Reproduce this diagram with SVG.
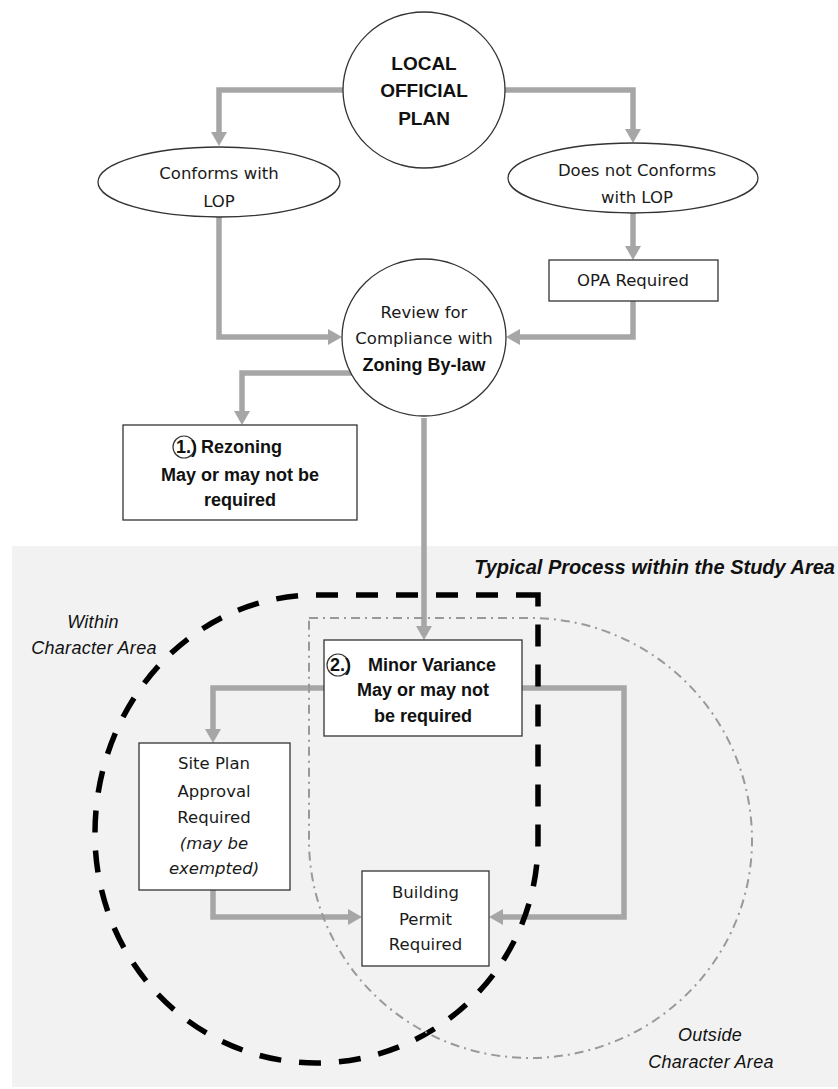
<svg xmlns="http://www.w3.org/2000/svg" width="838" height="1089" viewBox="0 0 838 1089">
<style>
.node{fill:#fff;stroke:#333;stroke-width:1.3}
.conn{fill:none;stroke:#a6a6a6;stroke-width:5.5;stroke-linejoin:miter;stroke-linecap:butt}
.t{font-family:"DejaVu Sans",sans-serif;font-size:16.5px;fill:#1a1a1a;text-anchor:middle}
.ti{font-family:"DejaVu Sans",sans-serif;font-size:16.5px;font-style:italic;fill:#1a1a1a;text-anchor:middle}
.b{font-family:"Liberation Sans",Arial,sans-serif;font-size:18px;font-weight:bold;fill:#111;text-anchor:middle}
.lbl{font-family:"Liberation Sans",Arial,sans-serif;font-size:18px;font-style:italic;fill:#111;text-anchor:middle;letter-spacing:0.3px}
.num{fill:#fff;stroke:#333;stroke-width:1.2}
</style>
<defs>
<marker id="ah" markerUnits="userSpaceOnUse" viewBox="0 0 14 16" refX="1" refY="8" markerWidth="14" markerHeight="16" orient="auto">
<path d="M0,0 L14,8 L0,16 Z" fill="#a6a6a6"/>
</marker>
</defs>

<rect id="study-area" x="12" y="546" width="826" height="541" fill="#f2f2f2"/>
<text class="b" x="835" y="574" style="font-size:20px;font-style:italic;text-anchor:end">Typical Process within the Study Area</text>

<g id="connectors">
<path class="conn" d="M346 90 H219 V133" marker-end="url(#ah)"/>
<path class="conn" d="M502 90 H633 V130" marker-end="url(#ah)"/>
<path class="conn" d="M633 213 V247" marker-end="url(#ah)"/>
<path class="conn" d="M219 217 V337 H329" marker-end="url(#ah)"/>
<path class="conn" d="M633 301 V337 H519" marker-end="url(#ah)"/>
<path class="conn" d="M352 373 H242 V412" marker-end="url(#ah)"/>
<path class="conn" d="M424 418 V627" marker-end="url(#ah)"/>
<path class="conn" d="M324 688 H213 V730" marker-end="url(#ah)"/>
<path class="conn" d="M522 688 H624 V917 H502" marker-end="url(#ah)"/>
<path class="conn" d="M213 890 V917 H349" marker-end="url(#ah)"/>
</g>

<g id="within-character-area">
<path d="M538 595 H316 A221 238 0 0 0 95 835 A221 228 0 0 0 316 1063 A222 222 0 0 0 538 841 Z" fill="none" stroke="#000" stroke-width="5.5" stroke-dasharray="22,18"/>
<text class="lbl" x="93" y="628">Within</text>
<text class="lbl" x="94" y="654">Character Area</text>
</g>

<g id="outside-character-area">
<path d="M309 618 H530 A222 222 0 0 1 752 840 A222 218 0 0 1 530 1058 A221 218 0 0 1 309 840 Z" fill="none" stroke="#999" stroke-width="2" stroke-dasharray="9,5,2,5"/>
<text class="lbl" x="710" y="1041">Outside</text>
<text class="lbl" x="711" y="1068">Character Area</text>
</g>

<g id="local-official-plan">
<ellipse class="node" cx="424" cy="90" rx="81" ry="78"/>
<text class="b" x="424" y="70" style="font-size:19px">LOCAL</text>
<text class="b" x="424" y="97" style="font-size:19px">OFFICIAL</text>
<text class="b" x="424" y="125" style="font-size:19px">PLAN</text>
</g>

<g id="conforms">
<ellipse class="node" cx="219" cy="182" rx="121" ry="35"/>
<text class="t" x="219" y="179">Conforms with</text>
<text class="t" x="219" y="207">LOP</text>
</g>

<g id="does-not-conform">
<ellipse class="node" cx="633" cy="178" rx="125" ry="35"/>
<text class="t" x="637" y="176">Does not Conforms</text>
<text class="t" x="637" y="203">with LOP</text>
</g>

<g id="opa-required">
<rect class="node" x="549" y="260" width="169" height="41"/>
<text class="t" x="633" y="286">OPA Required</text>
</g>

<g id="review">
<ellipse class="node" cx="424" cy="337.5" rx="82" ry="78.5"/>
<text class="t" x="424" y="318">Review for</text>
<text class="t" x="424" y="344">Compliance with</text>
<text class="b" x="424" y="371">Zoning By-law</text>
</g>

<g id="rezoning">
<rect class="node" x="123" y="425" width="234" height="95"/>
<circle class="num" cx="184" cy="447" r="11"/>
<text class="b" x="176" y="453" style="text-anchor:start">1.)</text>
<text class="b" x="201" y="453" style="text-anchor:start">Rezoning</text>
<text class="b" x="240" y="481">May or may not be</text>
<text class="b" x="240" y="506">required</text>
</g>

<g id="minor-variance">
<rect class="node" x="324" y="640" width="198" height="96"/>
<circle class="num" cx="338" cy="665" r="11"/>
<text class="b" x="330" y="671" style="text-anchor:start">2.)</text>
<text class="b" x="368" y="671" style="text-anchor:start">Minor Variance</text>
<text class="b" x="423" y="696">May or may not</text>
<text class="b" x="423" y="722">be required</text>
</g>

<g id="site-plan">
<rect class="node" x="139" y="743" width="151" height="147"/>
<text class="t" x="214" y="769">Site Plan</text>
<text class="t" x="214" y="797">Approval</text>
<text class="t" x="214" y="823">Required</text>
<text class="ti" x="214" y="849">(may be</text>
<text class="ti" x="214" y="874">exempted)</text>
</g>

<g id="building-permit">
<rect class="node" x="362" y="871" width="127" height="95"/>
<text class="t" x="425.5" y="898">Building</text>
<text class="t" x="425.5" y="925">Permit</text>
<text class="t" x="425.5" y="950">Required</text>
</g>
</svg>
